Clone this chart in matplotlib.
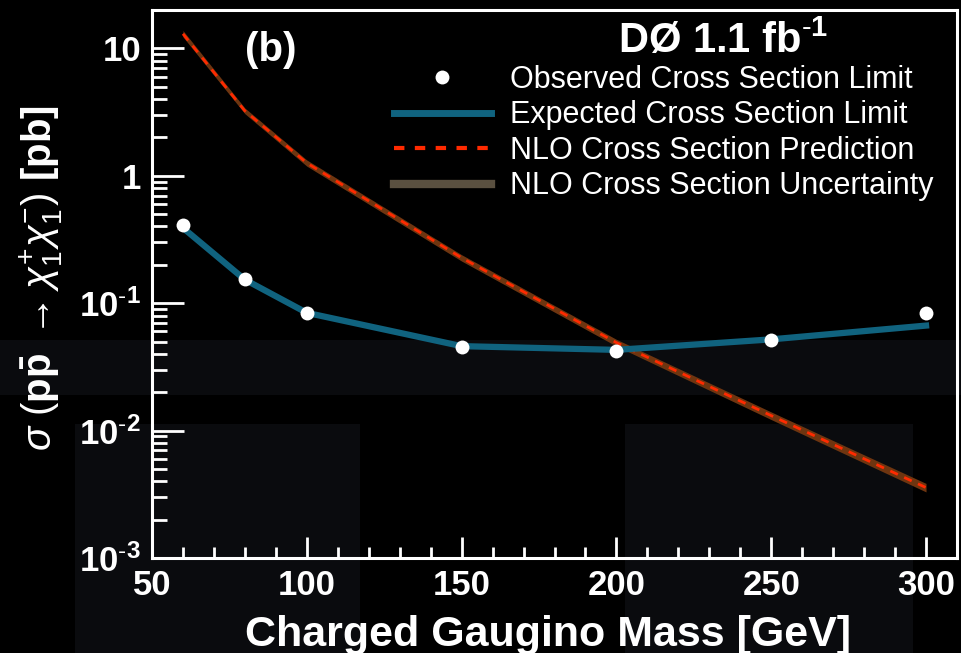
import matplotlib
matplotlib.use("Agg")
import matplotlib.pyplot as plt
from matplotlib.lines import Line2D
from matplotlib.patches import Rectangle
from matplotlib.ticker import FixedLocator, MultipleLocator, NullFormatter

plt.rcParams['font.family'] = ['Liberation Sans', 'DejaVu Sans']
plt.rcParams['mathtext.fontset'] = 'custom'
plt.rcParams['mathtext.rm'] = 'Liberation Sans'
plt.rcParams['mathtext.bf'] = 'Liberation Sans:bold'
plt.rcParams['mathtext.it'] = 'Liberation Sans:italic'

# ---------------- data
mass = [60, 80, 100, 150, 200, 250, 300]
observed = [0.413, 0.156, 0.084, 0.0456, 0.042, 0.0517, 0.084]
expected = [0.39, 0.153, 0.084, 0.046, 0.043, 0.052, 0.0667]
nlo = [13.0, 3.23, 1.26, 0.227, 0.049, 0.0131, 0.00357]
nlo_lo = [12.3, 3.07, 1.19, 0.214, 0.046, 0.0122, 0.00330]
nlo_hi = [13.8, 3.40, 1.33, 0.240, 0.052, 0.0140, 0.00385]

yticks = [1e-3, 1e-2, 1e-1, 1, 10]
ytick_labels = [r'$\mathbf{10}^{\mathbf{\text{-}3}}$', r'$\mathbf{10}^{\mathbf{\text{-}2}}$',
                r'$\mathbf{10}^{\mathbf{\text{-}1}}$', '1', '10']

fig = plt.figure(figsize=(9.61, 6.53), dpi=100, facecolor='black')

# faint watermark shapes in the background
for (x0, y0, w, h) in [(0.0, 0.395, 1.0, 0.085), (0.135, 0.0, 0.24, 0.35),
                       (0.65, 0.0, 0.30, 0.35), (0.078, 0.0, 0.057, 0.35)]:
    fig.patches.append(Rectangle((x0, y0), w, h, transform=fig.transFigure,
                                 facecolor='#0a0b0e', edgecolor='none', zorder=-10))

ax = fig.add_axes([152 / 961, 1 - 558 / 653, (957 - 152) / 961, (558 - 10) / 653])
ax.set_zorder(1)
ax.set_facecolor('none')
ax.set_yscale('log')
ax.set_xlim(50, 310)
ax.set_ylim(1e-3, 20)

ax.fill_between(mass, nlo_lo, nlo_hi, color='#6e3510', lw=0, zorder=2)
ax.plot(mass, nlo, color='#ff2a00', lw=2, ls=(0, (3, 2.5)), zorder=3)
ax.plot(mass, expected, color='#10637f', lw=4.5, zorder=4)
ax.plot(mass, observed, 'o', color='white', ms=10, mec='none', zorder=5)

for s in ['top', 'right', 'left', 'bottom']:
    ax.spines[s].set_color('white')
    ax.spines[s].set_linewidth(2.2)

ax.yaxis.set_major_locator(FixedLocator(yticks))
ax.set_yticklabels(ytick_labels)
ax.xaxis.set_major_locator(MultipleLocator(50))
ax.xaxis.set_minor_locator(MultipleLocator(10))
ax.tick_params(axis='both', which='both', direction='in', colors='white',
               top=False, right=False)
ax.tick_params(axis='y', which='major', length=23, width=2, pad=8, labelsize=25)
ax.tick_params(axis='y', which='minor', length=11, width=2)
ax.tick_params(axis='x', which='major', length=15, width=2, pad=8, labelsize=25)
ax.tick_params(axis='x', which='minor', length=8, width=2)
ax.yaxis.set_minor_formatter(NullFormatter())
for lab in ax.get_xticklabels() + ax.get_yticklabels():
    lab.set_fontweight('bold')

ax.set_xlabel('Charged Gaugino Mass [GeV]', color='white', fontsize=31,
              fontweight='bold', labelpad=9, x=0.4925)
ax.set_ylabel(r'$\sigma$ $(\mathbf{p\bar{p}}$ $\rightarrow \chi^{+}_{1}\chi^{-}_{1})$ [pb]',
              color='white', fontsize=29, fontweight='bold', labelpad=10, y=0.51)

ax.text(0.1155, 0.927, '(b)', transform=ax.transAxes, color='white', fontsize=29,
        fontweight='bold', ha='left', va='center')
ax.text(0.579, 0.9215, r'DØ 1.1 fb$^{\mathbf{\text{-}1}}$', transform=ax.transAxes,
        color='white', fontsize=30, fontweight='bold', ha='left', va='baseline')

handles = [
    Line2D([], [], marker='o', ls='none', color='white', ms=10, mec='none'),
    Line2D([], [], color='#10637f', lw=5),
    Line2D([], [], color='#ff2a00', lw=3, ls=(0, (2.5, 2.5))),
    Line2D([], [], color='#5a5040', lw=6),
]
labels = ['Observed Cross Section Limit', 'Expected Cross Section Limit',
          'NLO Cross Section Prediction', 'NLO Cross Section Uncertainty']
leg = ax.legend(handles, labels, loc='upper left', bbox_to_anchor=(0.3, 0.9),
                frameon=False, fontsize=22, handlelength=3.2, handletextpad=0.6,
                labelspacing=0.18, borderaxespad=0.0, borderpad=0.0)
for t in leg.get_texts():
    t.set_color('white')

fig.savefig('out.png', dpi=100, facecolor='black')
